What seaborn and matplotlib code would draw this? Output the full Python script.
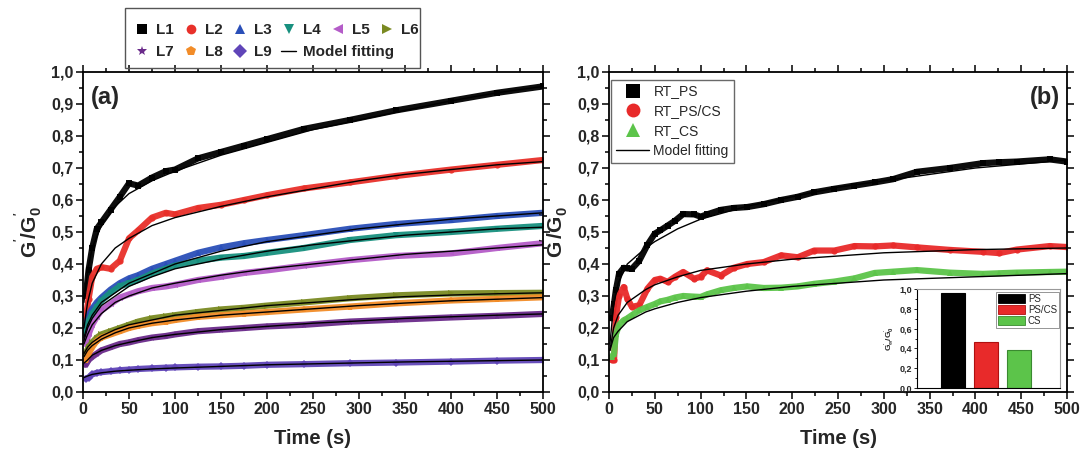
import numpy as np
import pandas as pd
import seaborn as sns
import matplotlib
matplotlib.use("Agg")
import matplotlib.pyplot as plt
from matplotlib.lines import Line2D
from matplotlib.patches import Patch, Rectangle
from matplotlib.ticker import MultipleLocator, FuncFormatter

# ---------------- data: panel (a) ----------------
t_a = [3, 6, 10, 15, 20, 30, 40, 50, 60, 75, 90, 100, 125, 150, 175, 200, 240, 290, 340, 400, 450, 500]
L1 = [0.30, 0.38, 0.45, 0.51, 0.53, 0.57, 0.61, 0.652, 0.645, 0.67, 0.69, 0.695, 0.73, 0.75, 0.77, 0.79, 0.822, 0.85, 0.88, 0.91, 0.935, 0.955]
L2 = [0.23, 0.29, 0.36, 0.385, 0.39, 0.385, 0.41, 0.48, 0.505, 0.545, 0.56, 0.555, 0.575, 0.585, 0.60, 0.615, 0.636, 0.655, 0.675, 0.695, 0.71, 0.725]
L3 = [0.20, 0.24, 0.26, 0.28, 0.295, 0.32, 0.34, 0.355, 0.365, 0.385, 0.40, 0.41, 0.435, 0.452, 0.465, 0.475, 0.49, 0.51, 0.525, 0.537, 0.55, 0.56]
L4 = [0.18, 0.22, 0.245, 0.265, 0.285, 0.31, 0.33, 0.34, 0.35, 0.37, 0.385, 0.395, 0.41, 0.42, 0.425, 0.435, 0.45, 0.475, 0.49, 0.50, 0.51, 0.519]
L5 = [0.15, 0.18, 0.21, 0.235, 0.255, 0.275, 0.295, 0.305, 0.315, 0.325, 0.33, 0.335, 0.35, 0.36, 0.372, 0.38, 0.395, 0.412, 0.425, 0.433, 0.45, 0.465]
L6 = [0.12, 0.14, 0.155, 0.17, 0.18, 0.19, 0.20, 0.21, 0.22, 0.23, 0.236, 0.24, 0.25, 0.258, 0.263, 0.27, 0.28, 0.293, 0.302, 0.308, 0.309, 0.31]
L7 = [0.085, 0.10, 0.11, 0.12, 0.13, 0.14, 0.15, 0.155, 0.162, 0.17, 0.175, 0.18, 0.19, 0.195, 0.20, 0.205, 0.21, 0.22, 0.226, 0.233, 0.238, 0.244]
L8 = [0.10, 0.12, 0.14, 0.16, 0.17, 0.18, 0.19, 0.20, 0.207, 0.215, 0.22, 0.225, 0.235, 0.24, 0.245, 0.25, 0.258, 0.267, 0.277, 0.286, 0.291, 0.296]
L9 = [0.042, 0.045, 0.055, 0.06, 0.062, 0.065, 0.068, 0.07, 0.072, 0.074, 0.076, 0.077, 0.079, 0.08, 0.082, 0.085, 0.087, 0.09, 0.092, 0.095, 0.098, 0.10]

t_fit_a = [1, 5, 10, 20, 35, 50, 75, 100, 150, 200, 250, 300, 350, 400, 450, 500]
F1 = [0.28, 0.38, 0.45, 0.52, 0.58, 0.62, 0.66, 0.69, 0.74, 0.78, 0.82, 0.85, 0.88, 0.91, 0.935, 0.955]
F2 = [0.20, 0.28, 0.34, 0.40, 0.45, 0.48, 0.52, 0.545, 0.58, 0.61, 0.635, 0.66, 0.68, 0.695, 0.71, 0.72]
F3 = [0.17, 0.21, 0.24, 0.28, 0.31, 0.34, 0.37, 0.40, 0.44, 0.47, 0.49, 0.51, 0.525, 0.54, 0.55, 0.56]
F4 = [0.16, 0.20, 0.23, 0.27, 0.30, 0.33, 0.36, 0.385, 0.415, 0.44, 0.46, 0.475, 0.49, 0.50, 0.51, 0.515]
F5 = [0.15, 0.18, 0.21, 0.245, 0.28, 0.30, 0.325, 0.34, 0.365, 0.385, 0.40, 0.415, 0.43, 0.44, 0.45, 0.46]
F6 = [0.12, 0.14, 0.155, 0.175, 0.195, 0.21, 0.225, 0.24, 0.255, 0.27, 0.28, 0.29, 0.298, 0.303, 0.307, 0.31]
F7 = [0.09, 0.10, 0.115, 0.13, 0.145, 0.155, 0.17, 0.18, 0.195, 0.205, 0.215, 0.222, 0.23, 0.235, 0.24, 0.244]
F8 = [0.11, 0.13, 0.145, 0.165, 0.185, 0.20, 0.215, 0.225, 0.24, 0.25, 0.26, 0.27, 0.278, 0.285, 0.29, 0.295]
F9 = [0.045, 0.05, 0.055, 0.06, 0.065, 0.068, 0.072, 0.075, 0.08, 0.085, 0.088, 0.091, 0.094, 0.096, 0.098, 0.10]

names_a = ["L1", "L2", "L3", "L4", "L5", "L6", "L7", "L8", "L9"]
colors_a = ["#000000", "#e8302a", "#2a4fb8", "#18907f", "#b45cc8", "#7a8a22", "#6a2a8a", "#f28c28", "#6045b8"]
markers_a = ["s", "o", "^", "v", "<", ">", "*", "p", "D"]

# ---------------- data: panel (b) ----------------
t_b = [3, 5.5, 7.5, 11, 16, 20, 25, 33, 42, 50, 56, 64, 72, 81, 93, 100, 107, 122, 136, 151, 169, 188,
       206, 224, 246, 268, 290, 310, 336, 372, 408, 426, 445, 481, 500]
RT_PS = [0.23, 0.276, 0.318, 0.37, 0.388, 0.386, 0.385, 0.41, 0.46, 0.495, 0.505, 0.52, 0.535, 0.556, 0.555,
         0.548, 0.555, 0.569, 0.575, 0.578, 0.587, 0.60, 0.61, 0.624, 0.635, 0.645, 0.655, 0.665, 0.688, 0.70,
         0.715, 0.718, 0.72, 0.727, 0.72]
RT_PSCS = [0.10, 0.10, 0.235, 0.30, 0.328, 0.292, 0.266, 0.271, 0.323, 0.35, 0.354, 0.344, 0.36, 0.375, 0.354,
           0.36, 0.38, 0.364, 0.388, 0.40, 0.406, 0.427, 0.421, 0.442, 0.442, 0.456, 0.455, 0.458, 0.452, 0.444,
           0.438, 0.434, 0.445, 0.456, 0.453]
RT_CS = [0.11, 0.12, 0.18, 0.21, 0.224, 0.23, 0.24, 0.255, 0.266, 0.275, 0.283, 0.288, 0.295, 0.30, 0.298,
         0.297, 0.305, 0.318, 0.325, 0.33, 0.325, 0.326, 0.33, 0.338, 0.345, 0.355, 0.372, 0.376, 0.381, 0.373,
         0.369, 0.371, 0.373, 0.375, 0.376]

t_fit_b = [1, 5, 10, 20, 40, 50, 75, 100, 150, 200, 250, 300, 400, 500]
FB_PS = [0.15, 0.27, 0.34, 0.40, 0.45, 0.47, 0.51, 0.54, 0.58, 0.61, 0.64, 0.66, 0.70, 0.725]
FB_PSCS = [0.13, 0.20, 0.24, 0.28, 0.32, 0.335, 0.36, 0.38, 0.40, 0.415, 0.425, 0.435, 0.445, 0.45]
FB_CS = [0.13, 0.17, 0.19, 0.22, 0.25, 0.26, 0.28, 0.295, 0.315, 0.33, 0.34, 0.35, 0.36, 0.37]

names_b = ["RT_PS", "RT_PS/CS", "RT_CS"]
colors_b = ["#000000", "#e82a2a", "#5cc44a"]
markers_b = ["s", "o", "^"]

# inset bars
bar_cats = ["PS", "PS/CS", "CS"]
bar_vals = [0.96, 0.46, 0.38]
bar_edges = ["#000000", "#b01010", "#3a8a30"]

# ---------------- style ----------------
sns.set_theme(style="white")
plt.rcParams["font.family"] = ["Liberation Sans", "DejaVu Sans"]
plt.rcParams["mathtext.fontset"] = "custom"
plt.rcParams["mathtext.bf"] = "Liberation Sans:bold"
plt.rcParams["mathtext.rm"] = "Liberation Sans"
plt.rcParams["mathtext.it"] = "Liberation Sans:italic"

W, H = 1083, 450
fig = plt.figure(figsize=(W / 100, H / 100), dpi=100)
axA = fig.add_axes([83 / W, 1 - 392 / H, 460 / W, 320 / H])
axB = fig.add_axes([609 / W, 1 - 392 / H, 458 / W, 320 / H])

comma = FuncFormatter(lambda v, p: f"{v:.1f}".replace(".", ","))


def style_axis(ax):
    ax.set_xlim(0, 500)
    ax.set_ylim(0, 1.0)
    ax.xaxis.set_major_locator(MultipleLocator(50))
    ax.xaxis.set_minor_locator(MultipleLocator(25))
    ax.yaxis.set_major_locator(MultipleLocator(0.1))
    ax.yaxis.set_minor_locator(MultipleLocator(0.05))
    ax.yaxis.set_major_formatter(comma)
    for s in ax.spines.values():
        s.set_linewidth(1.3)
        s.set_color("black")
    ax.tick_params(which="both", direction="out", bottom=True, left=True, top=True, right=True,
                   width=1.1, color="black")
    ax.tick_params(which="major", length=5)
    ax.tick_params(which="minor", length=3)
    ax.tick_params(axis="both", which="major", labelsize=11.5, pad=2)
    for lab in ax.get_xticklabels() + ax.get_yticklabels():
        lab.set_fontweight("bold")
    ax.set_xlabel("Time (s)", fontsize=14.5, fontweight="bold", labelpad=9)
    ax.set_ylabel(r"$\mathbf{G^{'}/G^{'}_{0}}$", fontsize=15, labelpad=4)


# ---- panel (a) ----
series_a = [L1, L2, L3, L4, L5, L6, L7, L8, L9]
fits_a = [F1, F2, F3, F4, F5, F6, F7, F8, F9]
for name, vals, c, m in zip(names_a, series_a, colors_a, markers_a):
    sns.lineplot(x=t_a, y=vals, ax=axA, color=c, lw=4.5, marker=m, markersize=4.5,
                 markeredgewidth=0, alpha=0.95, solid_capstyle="round")
for f in fits_a:
    sns.lineplot(x=t_fit_a, y=f, ax=axA, color="black", lw=1.0)
style_axis(axA)
axA.text(0.018, 0.955, "(a)", transform=axA.transAxes, fontsize=17, fontweight="bold", va="top", ha="left")

handles = [Line2D([], [], ls="none", marker=m, color=c, markersize=7, markeredgewidth=0)
           for m, c in zip(markers_a, colors_a)]
fit_h = Line2D([], [], color="black", lw=1.0)
leg_kw = dict(frameon=False, handlelength=1.0, handletextpad=0.45, columnspacing=0.6,
              borderpad=0.0, borderaxespad=0.0, prop={"weight": "bold", "size": 11})
leg1 = fig.legend(handles[:6], names_a[:6], loc="center left",
                  bbox_to_anchor=(134 / W, 1 - 30 / H), ncol=6, **leg_kw)
leg2 = fig.legend(handles[6:] + [fit_h], names_a[6:] + ["Model fitting"], loc="center left",
                  bbox_to_anchor=(134 / W, 1 - 52 / H), ncol=4, **leg_kw)
fig.add_artist(Rectangle((125 / W, 1 - 68 / H), 295 / W, 60 / H, transform=fig.transFigure,
                         fill=False, edgecolor="#555555", lw=1.0))

# ---- panel (b) ----
series_b = [RT_PS, RT_PSCS, RT_CS]
fits_b = [FB_PS, FB_PSCS, FB_CS]
for name, vals, c, m in zip(names_b, series_b, colors_b, markers_b):
    sns.lineplot(x=t_b, y=vals, ax=axB, color=c, lw=4.5, marker=m, markersize=4.5,
                 markeredgewidth=0, alpha=0.95, solid_capstyle="round")
for f in fits_b:
    sns.lineplot(x=t_fit_b, y=f, ax=axB, color="black", lw=1.0)
style_axis(axB)
axB.text(0.985, 0.955, "(b)", transform=axB.transAxes, fontsize=17, fontweight="bold", va="top", ha="right")

hb = [Line2D([], [], ls="none", marker=m, color=c, markersize=10, markeredgewidth=0)
      for m, c in zip(markers_b, colors_b)] + [Line2D([], [], color="black", lw=1.0)]
legB = axB.legend(hb, names_b + ["Model fitting"], loc="upper left", bbox_to_anchor=(0.0, 0.983),
                  frameon=True, fancybox=False, edgecolor="#444444", handlelength=2.4,
                  handletextpad=0.3, labelspacing=0.42, borderpad=0.35, borderaxespad=0.15,
                  prop={"size": 10})
legB.get_frame().set_linewidth(1.0)

# ---- inset ----
axI = fig.add_axes([917 / W, 1 - 388 / H, 143 / W, 99 / H])
bar_df = pd.DataFrame({"cat": bar_cats, "val": bar_vals})
sns.barplot(data=bar_df, x="cat", y="val", hue="cat", palette=colors_b, ax=axI, width=0.7,
            legend=False, saturation=1)
for p, ec in zip(axI.patches, bar_edges):
    p.set_edgecolor(ec)
    p.set_linewidth(0.8)
axI.set_xlim(-1.09, 3.24)
axI.set_ylim(0, 1.0)
axI.yaxis.set_major_locator(MultipleLocator(0.2))
axI.yaxis.set_minor_locator(MultipleLocator(0.1))
axI.yaxis.set_major_formatter(comma)
axI.set_xticks([])
axI.set_xlabel("")
axI.set_ylabel(r"$\mathbf{G^{'}_{\infty}/G^{'}_{0}}$", fontsize=6, labelpad=2)
axI.tick_params(axis="y", which="both", direction="out", left=True, labelsize=6.5, pad=1, width=0.7)
axI.tick_params(axis="y", which="major", length=2.5)
axI.tick_params(axis="y", which="minor", length=1.5)
for lab in axI.get_yticklabels():
    lab.set_fontweight("bold")
for side, s in axI.spines.items():
    s.set_color("black" if side in ("left", "bottom") else "#999999")
    s.set_linewidth(0.8)
ph = [Patch(facecolor=c, edgecolor=ec, lw=0.6) for c, ec in zip(colors_b, bar_edges)]
legI = axI.legend(ph, bar_cats, loc="upper right", bbox_to_anchor=(1.0, 0.98), frameon=True,
                  fancybox=False, edgecolor="#666666", handlelength=2.8, handleheight=1.0,
                  handletextpad=0.3, labelspacing=0.1, borderpad=0.2, borderaxespad=0.1,
                  prop={"size": 7})
legI.get_frame().set_linewidth(0.6)

fig.savefig("out.png", dpi=100)
